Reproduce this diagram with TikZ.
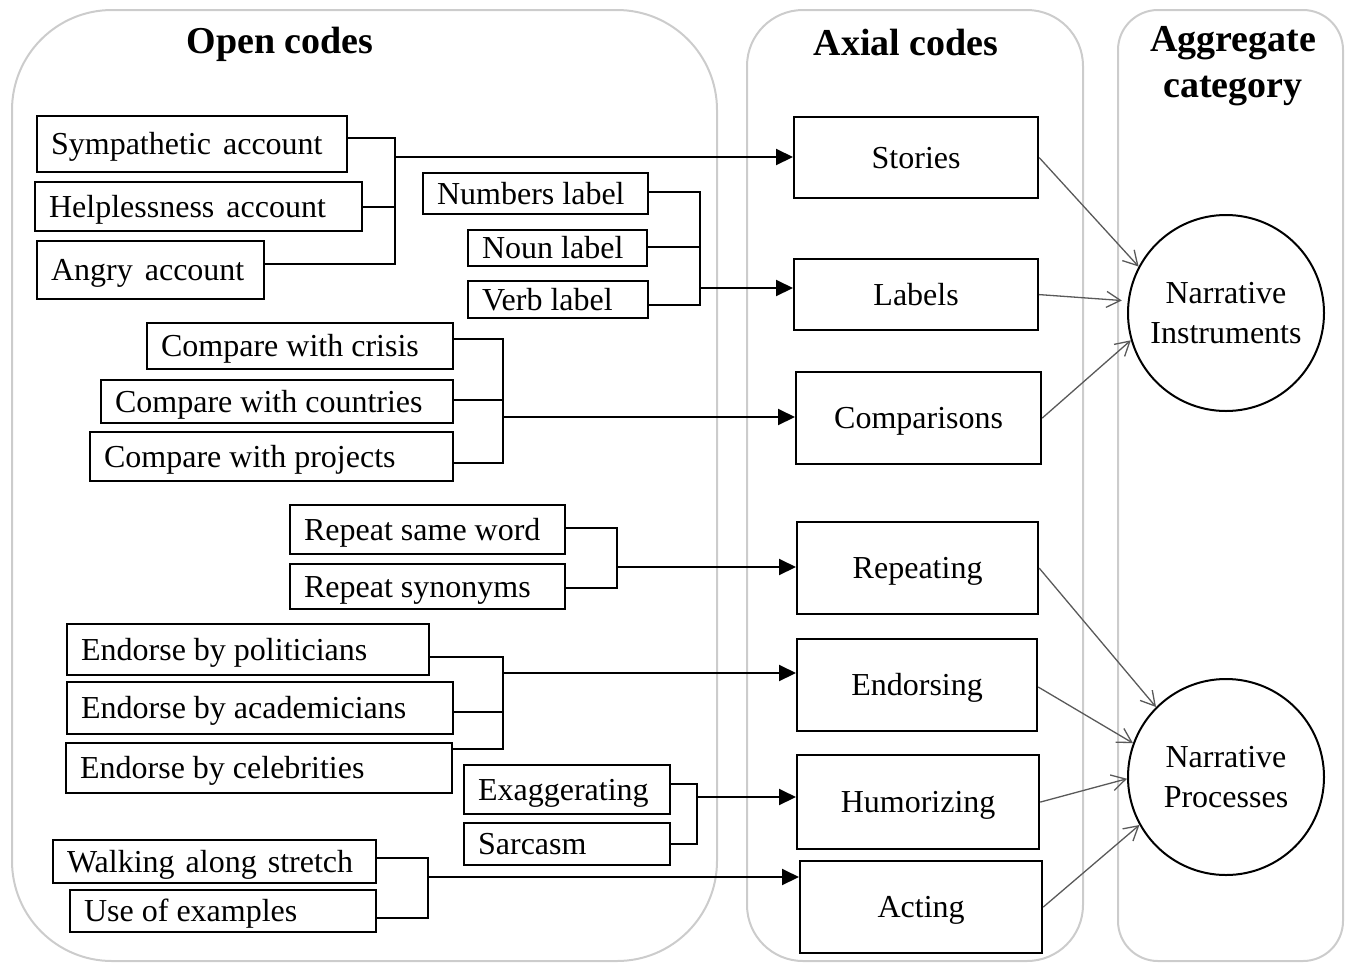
\documentclass[tikz,border=0pt]{standalone}
\usepackage{fontspec}
\setmainfont{Liberation Serif}
\usetikzlibrary{arrows.meta,calc}
\newcommand\obx[6]{%
  \pgfmathsetmacro\obxw{#4-#2-28}\pgfmathsetmacro\obxh{#5-#3}%
  \node[obox, minimum height=\obxh pt] (#1) at (#2,#3) {\makebox[\obxw pt][l]{#6}};}
\newcommand\abx[6]{%
  \pgfmathsetmacro\obxw{#4-#2}\pgfmathsetmacro\obxh{#5-#3}%
  \node[abox, minimum width=\obxw pt, minimum height=\obxh pt] (#1) at (#2,#3) {#6};}
\begin{document}
\begin{tikzpicture}[x=1pt,y=-1pt,
  container/.style={draw=black!20, line width=2pt},
  obox/.style={draw, line width=2.2pt, inner xsep=14pt, inner ysep=0pt,
    text height=21pt, text depth=0pt,
    font=\fontsize{32}{36}\selectfont, anchor=north west},
  abox/.style={draw, line width=2.2pt, inner sep=0pt,
    text height=21pt, text depth=0pt,
    font=\fontsize{32}{36}\selectfont, anchor=north west},
  hdr/.style={font=\bfseries\fontsize{38}{46}\selectfont, align=center},
  cat/.style={draw, circle, line width=2pt, minimum size=196pt, inner sep=0pt,
    align=center, font=\fontsize{32}{40}\selectfont},
  link/.style={line width=2pt},
  arr/.style={line width=2pt, -{Triangle[length=17pt,width=16pt]}},
  garr/.style={draw=black!65, line width=1.3pt, -{Straight Barb[length=14pt,width=16pt]}},
]
\useasboundingbox (0,0) rectangle (1347,962);
% containers
\draw[container, rounded corners=100pt] (12,10) rectangle (717,961);
\draw[container, rounded corners=56pt] (747,10) rectangle (1083,961);
\draw[container, rounded corners=40pt] (1118,10) rectangle (1343,961);
% headers
\node[hdr] (h1) at (280,44) {Open codes};
\node[hdr] (h2) at (906,42) {Axial codes};
\node[hdr] (h3) at (1233,66) {Aggregate\\category};
% open codes
\obx{symp}{36}{115}{346}{171}{Sympathetic\hspace{4pt} account}
\obx{help}{34}{181}{361}{230}{Helplessness\hspace{4pt} account}
\obx{angry}{36}{240}{263}{298}{Angry\hspace{4pt} account}
\obx{numl}{422}{172}{647}{213}{Numbers label}
\obx{noun}{467}{229}{646}{265}{Noun label}
\obx{verb}{467}{280}{647}{317}{Verb label}
\obx{crisis}{146}{322}{452}{368}{Compare with crisis}
\obx{ctry}{100}{379}{452}{422}{Compare with countries}
\obx{proj}{89}{431}{452}{480}{Compare with projects}
\obx{rsw}{289}{504}{564}{553}{Repeat same word}
\obx{rsyn}{289}{563}{564}{608}{Repeat synonyms}
\obx{pol}{66}{623}{428}{674}{Endorse by politicians}
\obx{acad}{66}{681}{452}{733}{Endorse by academicians}
\obx{celeb}{65}{742}{451}{792}{Endorse by celebrities}
\obx{exag}{463}{764}{669}{813}{Exaggerating}
\obx{sarc}{463}{822}{669}{864}{Sarcasm}
\obx{walk}{52}{839}{375}{882}{Walking\hspace{3pt} along\hspace{3pt} stretch}
\obx{use}{69}{889}{375}{931}{Use of examples}
% axial codes
\abx{stories}{793}{116}{1037}{197}{Stories}
\abx{labels}{793}{258}{1037}{329}{Labels}
\abx{comp}{795}{371}{1040}{463}{Comparisons}
\abx{rep}{796}{521}{1037}{613}{Repeating}
\abx{endo}{796}{638}{1036}{730}{Endorsing}
\abx{humo}{796}{754}{1038}{848}{Humorizing}
\abx{act}{799}{860}{1041}{952}{Acting}
% categories
\node[cat] (ni) at (1226,313) {Narrative\\Instruments};
\node[cat] (np) at (1226,777) {Narrative\\Processes};
% group 1
\coordinate (b1) at (395,157);
\draw[link] (symp.east |- 0,138) -- (395,138) -- (395,264) -- (angry.east |- 0,264);
\draw[link] (help.east) -- (help.east -| b1);
\draw[arr] (b1) -- (stories.west |- b1);
% group 2
\coordinate (b2) at (700,288);
\draw[link] (numl.east |- 0,192) -- (700,192) -- (700,305) -- (verb.east |- 0,305);
\draw[link] (noun.east |- 0,247) -- (700,247);
\draw[arr] (b2) -- (labels.west |- b2);
% group 3
\coordinate (b3) at (503,417);
\draw[link] (crisis.east |- 0,339) -- (503,339) -- (503,463) -- (proj.east |- 0,463);
\draw[link] (ctry.east |- 0,400) -- (503,400);
\draw[arr] (b3) -- (comp.west |- b3);
% group 4
\coordinate (b4) at (617,567);
\draw[link] (rsw.east |- 0,528) -- (617,528) -- (617,588) -- (rsyn.east |- 0,588);
\draw[arr] (b4) -- (rep.west |- b4);
% group 5
\coordinate (b5) at (502,673);
\draw[link] (pol.east |- 0,657) -- (503,657) -- (503,749) -- (celeb.east |- 0,749);
\draw[link] (acad.east |- 0,712) -- (503,712);
\draw[arr] (b5) -- (endo.west |- b5);
% group 6
\coordinate (b6) at (697,797);
\draw[link] (exag.east |- 0,784) -- (697,784) -- (697,844) -- (sarc.east |- 0,844);
\draw[arr] (b6) -- (humo.west |- b6);
% group 7
\coordinate (b7) at (428,877);
\draw[link] (walk.east |- 0,858) -- (428,858) -- (428,918) -- (use.east |- 0,918);
\draw[arr] (b7) -- (act.west |- b7);
% to categories
\draw[garr] (stories.east) -- (ni.152);
\draw[garr, shorten >=6pt] (labels.east) -- (ni.173);
\draw[garr] (comp.east) -- (ni.196);
\draw[garr] (rep.east) -- (np.135);
\draw[garr] (endo.east |- 0,687) -- (np.160);
\draw[garr] (humo.east) -- (np.181);
\draw[garr] (act.east) -- (np.209);
\end{tikzpicture}
\end{document}
